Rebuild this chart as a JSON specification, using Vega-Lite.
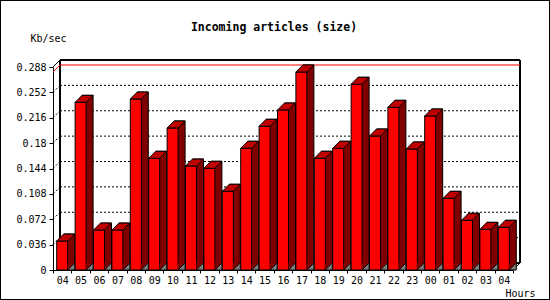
{
  "$schema": "https://vega.github.io/schema/vega-lite/v6.json",
  "width": 460,
  "height": 203,
  "autosize": {"type": "none"},
  "padding": {"left": 53, "top": 67, "right": 37, "bottom": 30},
  "background": "white",
  "title": {"text": "Incoming articles (size)", "font": "DejaVu Sans Mono", "fontSize": 11.5, "fontWeight": "bold", "color": "black", "anchor": "middle", "dx": -9, "baseline": "alphabetic", "offset": -42},
  "config": {
    "view": {"stroke": null},
    "axis": {"domainColor": "black", "tickColor": "black", "labelColor": "black", "titleColor": "black", "labelFont": "DejaVu Sans Mono", "labelFontSize": 10, "titleFont": "DejaVu Sans Mono", "titleFontSize": 10, "titleFontWeight": "normal", "grid": false, "labelOverlap": false}
  },
  "datasets": {
    "traffic": [
      {"slot": "04a", "v": 0.0411},
      {"slot": "05", "v": 0.2379},
      {"slot": "06", "v": 0.0567},
      {"slot": "07", "v": 0.0567},
      {"slot": "08", "v": 0.2426},
      {"slot": "09", "v": 0.1585},
      {"slot": "10", "v": 0.2015},
      {"slot": "11", "v": 0.1475},
      {"slot": "12", "v": 0.1443},
      {"slot": "13", "v": 0.1117},
      {"slot": "14", "v": 0.1727},
      {"slot": "15", "v": 0.2039},
      {"slot": "16", "v": 0.2270},
      {"slot": "17", "v": 0.2809},
      {"slot": "18", "v": 0.1585},
      {"slot": "19", "v": 0.1727},
      {"slot": "20", "v": 0.2635},
      {"slot": "21", "v": 0.1901},
      {"slot": "22", "v": 0.2308},
      {"slot": "23", "v": 0.1717},
      {"slot": "00", "v": 0.2185},
      {"slot": "01", "v": 0.1017},
      {"slot": "02", "v": 0.0705},
      {"slot": "03", "v": 0.0577},
      {"slot": "04b", "v": 0.0606}
    ],
    "grid": [
      {"g": 0.036}, {"g": 0.072}, {"g": 0.108}, {"g": 0.144}, {"g": 0.18}, {"g": 0.216}, {"g": 0.252}
    ]
  },
  "layer": [
    {
      "data": {"name": "grid"},
      "mark": {"type": "rect", "fillOpacity": 0, "stroke": "black", "strokeWidth": 1, "xOffset": -52.5, "x2Offset": 36.5, "yOffset": -66.5, "y2Offset": 29.5},
      "encoding": {"x": {"value": 0}, "x2": {"value": "width"}, "y": {"value": 0}, "y2": {"value": "height"}}
    },
    {
      "data": {"name": "grid"},
      "mark": {"type": "rect", "fillOpacity": 0, "stroke": "black", "strokeWidth": 1, "xOffset": 7, "x2Offset": 7, "yOffset": -7, "y2Offset": -7},
      "encoding": {"x": {"value": 0}, "x2": {"value": "width"}, "y": {"value": 0}, "y2": {"value": "height"}}
    },
    {
      "data": {"name": "grid"},
      "mark": {"type": "rule", "color": "black", "strokeWidth": 1, "x2Offset": 7, "y2Offset": -7},
      "encoding": {"x": {"value": 0}, "x2": {"value": 0}, "y": {"value": 0}, "y2": {"value": 0}}
    },
    {
      "data": {"name": "grid"},
      "mark": {"type": "rule", "color": "black", "strokeWidth": 1, "x2Offset": 7, "y2Offset": -7},
      "encoding": {"x": {"value": "width"}, "x2": {"value": "width"}, "y": {"value": "height"}, "y2": {"value": "height"}}
    },
    {
      "data": {"name": "traffic"},
      "mark": {"type": "bar", "width": 11, "fill": "#ff0000", "stroke": "black", "strokeWidth": 1, "opacity": 0},
      "encoding": {
        "x": {"field": "slot", "type": "nominal", "sort": null, "scale": {"type": "band", "paddingInner": 0, "paddingOuter": 0},
          "axis": {"title": "Hours", "labelExpr": "substring(datum.label, 0, 2)", "tickBand": "extent", "tickSize": 3, "labelPadding": 2, "labelAngle": 0, "titleX": 452, "titleY": 26.5, "titleAlign": "left", "titleBaseline": "alphabetic"}},
        "y": {"field": "v", "type": "quantitative", "scale": {"domain": [0, 0.288], "nice": false, "zero": true},
          "axis": {"values": [0, 0.036, 0.072, 0.108, 0.144, 0.18, 0.216, 0.252, 0.288], "tickCount": 20, "format": ".3~f", "tickSize": 4, "labelPadding": 3, "labelOverlap": false, "title": "Kb/sec", "titleAngle": 0, "titleX": -23, "titleY": -25.5, "titleAlign": "left", "titleBaseline": "alphabetic"}},
        "y2": {"datum": 0}
      }
    },
    {
      "data": {"name": "grid"},
      "mark": {"type": "rule", "color": "black", "strokeWidth": 1, "strokeDash": [2, 2], "xOffset": 7, "x2Offset": 7, "yOffset": -7},
      "encoding": {
        "x": {"value": 0}, "x2": {"value": "width"},
        "y": {"field": "g", "type": "quantitative"}
      }
    },
    {
      "data": {"name": "grid"},
      "mark": {"type": "rule", "color": "black", "strokeWidth": 1, "strokeDash": [2, 2], "x2Offset": 7, "y2Offset": -7},
      "encoding": {
        "x": {"value": 0}, "x2": {"value": 0},
        "y": {"field": "g", "type": "quantitative"},
        "y2": {"field": "g"}
      }
    },
    {
      "data": {"name": "traffic"},
      "mark": {"type": "rule", "color": "#ff0000", "strokeWidth": 1, "xOffset": 7, "x2Offset": 7, "yOffset": -7},
      "encoding": {
        "x": {"value": 0}, "x2": {"value": "width"},
        "y": {"aggregate": "max", "field": "v", "type": "quantitative"}
      }
    },
    {
      "data": {"name": "traffic"},
      "mark": {"type": "rule", "color": "#ff0000", "strokeWidth": 1, "x2Offset": 7, "y2Offset": -7},
      "encoding": {
        "x": {"value": 0}, "x2": {"value": 0},
        "y": {"aggregate": "max", "field": "v", "type": "quantitative"},
        "y2": {"aggregate": "max", "field": "v"}
      }
    },
    {
      "data": {"name": "traffic"},
      "mark": {"type": "bar", "width": 11, "fill": "#800000", "stroke": "black", "strokeWidth": 1, "xOffset": 7, "yOffset": -7, "y2Offset": -7},
      "encoding": {
        "x": {"field": "slot", "type": "nominal", "sort": null, "scale": {"type": "band", "paddingInner": 0, "paddingOuter": 0}},
        "y": {"field": "v", "type": "quantitative"},
        "y2": {"datum": 0}
      }
    },
    {
      "data": {"name": "traffic"},
      "mark": {"type": "bar", "width": 11, "fill": "#ff0000", "stroke": "black", "strokeWidth": 1},
      "encoding": {
        "x": {"field": "slot", "type": "nominal", "sort": null, "scale": {"type": "band", "paddingInner": 0, "paddingOuter": 0}},
        "y": {"field": "v", "type": "quantitative"},
        "y2": {"datum": 0}
      }
    },
    {
      "data": {"name": "traffic"},
      "mark": {"type": "point", "shape": "M -5.5 0 L 5.5 0 L 12.5 -7 L 1.5 -7 Z", "size": 4, "filled": true, "fill": "#c00000", "stroke": "black", "strokeWidth": 1, "opacity": 1},
      "encoding": {
        "x": {"field": "slot", "type": "nominal", "sort": null, "scale": {"type": "band", "paddingInner": 0, "paddingOuter": 0}},
        "y": {"field": "v", "type": "quantitative"}
      }
    },
    {
      "data": {"name": "traffic"},
      "mark": {"type": "point", "shape": "M 5.5 -8 L 12.5 -8 L 12.5 -7 L 5.5 0 Z", "size": 4, "filled": true, "fill": "#800000", "strokeWidth": 0, "opacity": 1},
      "encoding": {
        "x": {"field": "slot", "type": "nominal", "sort": null, "scale": {"type": "band", "paddingInner": 0, "paddingOuter": 0}},
        "y": {"datum": 0, "type": "quantitative"}
      }
    },
    {
      "data": {"name": "traffic"},
      "mark": {"type": "point", "shape": "M 5.5 0 L 12.5 -7 L 12.5 0 Z", "size": 4, "filled": true, "fill": "#808080", "stroke": "black", "strokeWidth": 1, "opacity": 1},
      "encoding": {
        "x": {"field": "slot", "type": "nominal", "sort": null, "scale": {"type": "band", "paddingInner": 0, "paddingOuter": 0}},
        "y": {"datum": 0, "type": "quantitative"}
      }
    }
  ]
}
